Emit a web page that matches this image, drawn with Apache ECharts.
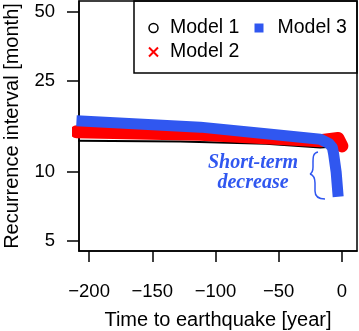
<!DOCTYPE html>
<html>
<head>
<meta charset="utf-8">
<script src="https://cdn.jsdelivr.net/npm/echarts@6/dist/echarts.min.js"></script>
<style>
  html, body { margin: 0; padding: 0; background: #fff; }
  #main { width: 359px; height: 331px; }
</style>
</head>
<body>
<div id="main"></div>
<script>
// values (years before earthquake, interval in months)
const model1X = [-210, -128, -60, -17, 0];
const model1Y = [13.7, 13.6, 13.3, 12.8, 13.0];

const model2X = [-210, -112, -60, -17, -3, 0];
const model2Y = [15.0, 14.6, 14.1, 13.7, 14.0, 13.0];

const model3X = [-210, -112, -60, -17, -10, -7.5, -6.5, -4.5, -2.9];
const model3Y = [16.75, 15.7, 14.7, 13.9, 13.3, 12.8, 12.0, 10.0, 7.8];

const xTicks = [-200, -150, -100, -50, 0];
const yTicks = [5, 10, 25, 50];

const BLUE = '#3057f0';
const RED = '#ff0000';
const FONT = 'Liberation Sans';

function pairs(xs, ys) {
    return xs.map((x, i) => [x, ys[i]]);
}

// curly brace next to the annotation, as a few curve pieces
const braceStyle = { stroke: BLUE, lineWidth: 1.5, fill: 'none' };
function curve(x1, y1, cx1, cy1, cx2, cy2, x2, y2) {
    return {
        type: 'bezierCurve',
        shape: { x1, y1, cpx1: cx1, cpy1: cy1, cpx2: cx2, cpy2: cy2, x2, y2 },
        style: braceStyle
    };
}
function seg(x1, y1, x2, y2) {
    return { type: 'line', shape: { x1, y1, x2, y2 }, style: braceStyle };
}

const axisLineStyle = { color: '#000', width: 1.5 };

const chart = echarts.init(document.getElementById('main'));

chart.setOption({
    animation: false,
    grid: {
        left: 79, right: 2, top: 1, bottom: 80,
        outerBoundsMode: 'none',
        containLabel: false,
        show: true,
        borderColor: '#000',
        borderWidth: 1.5
    },
    xAxis: {
        type: 'value',
        min: -208,
        max: 12,
        name: 'Time to earthquake [year]',
        nameLocation: 'middle',
        nameGap: 59,
        nameTextStyle: { fontFamily: FONT, fontSize: 20, color: '#000' },
        axisLine: { show: true, onZero: false, lineStyle: axisLineStyle },
        splitLine: { show: false },
        axisTick: {
            show: true,
            customValues: xTicks,
            length: 11,
            lineStyle: axisLineStyle
        },
        axisLabel: {
            customValues: xTicks,
            margin: 31,
            fontFamily: FONT,
            fontSize: 18.5,
            color: '#000',
            formatter: (v) => String(v).replace('-', '\u2212')
        }
    },
    yAxis: {
        type: 'log',
        min: 4.52,
        max: 55.8,
        name: 'Recurrence interval [month]',
        nameLocation: 'middle',
        nameGap: 57,
        nameTextStyle: { fontFamily: FONT, fontSize: 20, color: '#000' },
        axisLine: { show: true, onZero: false, lineStyle: axisLineStyle },
        splitLine: { show: false },
        axisTick: {
            show: true,
            customValues: yTicks,
            length: 12,
            lineStyle: axisLineStyle
        },
        axisLabel: {
            customValues: yTicks,
            margin: 24,
            fontFamily: FONT,
            fontSize: 18.5,
            color: '#000'
        }
    },
    legend: [{
        orient: 'vertical',
        left: 146.5,
        top: 18,
        padding: 0,
        itemWidth: 9,
        itemHeight: 9,
        itemGap: 4,
        textStyle: { fontFamily: FONT, fontSize: 19.5, color: '#000', lineHeight: 20, padding: [0, 0, 0, 7] },
        data: [
            { name: 'Model 1', icon: 'circle', itemStyle: { color: '#fff', borderColor: '#000', borderWidth: 1.5 } },
            { name: 'Model 2', icon: 'path://M0 0L10 10M10 0L0 10', itemStyle: { color: 'none', borderColor: RED, borderWidth: 2 } }
        ]
    }, {
        orient: 'vertical',
        left: 254.5,
        top: 18,
        padding: 0,
        itemWidth: 9,
        itemHeight: 9,
        textStyle: { fontFamily: FONT, fontSize: 19.5, color: '#000', lineHeight: 20, padding: [0, 0, 0, 9] },
        data: [
            { name: 'Model 3', icon: 'rect', itemStyle: { color: BLUE, borderWidth: 0 } }
        ]
    }],
    series: [{
        name: 'Model 1',
        type: 'line',
        showSymbol: false,
        clip: true,
        color: '#000',
        lineStyle: { color: '#000', width: 2 },
        data: pairs(model1X, model1Y)
    }, {
        name: 'Model 2',
        type: 'line',
        showSymbol: false,
        clip: true,
        color: RED,
        lineStyle: { color: RED, width: 13, cap: 'round', join: 'round' },
        data: pairs(model2X, model2Y)
    }, {
        name: 'Model 3',
        type: 'line',
        showSymbol: false,
        clip: true,
        color: BLUE,
        lineStyle: { color: BLUE, width: 11, cap: 'butt', join: 'round' },
        data: pairs(model3X, model3Y)
    }],
    graphic: [{
        type: 'rect',
        shape: { x: 134, y: 1, width: 223, height: 72 },
        style: { fill: 'none', stroke: '#000', lineWidth: 1.5 },
        z: 10
    }, {
        type: 'text',
        x: 253,
        y: 173,
        style: {
            text: 'Short-term\ndecrease',
            font: 'italic bold 20px "Liberation Serif"',
            fill: BLUE,
            align: 'center',
            verticalAlign: 'middle',
            lineHeight: 20
        }
    },
    curve(318, 152, 313, 153, 313, 157, 313, 163),
    seg(313, 163, 313, 167),
    curve(313, 167, 313, 171, 312, 173, 310, 174),
    curve(310, 174, 313, 175, 315, 178, 315, 183),
    seg(315, 183, 315, 191),
    curve(315, 191, 315, 196, 318, 199, 325, 199)
    ]
});
</script>
</body>
</html>
